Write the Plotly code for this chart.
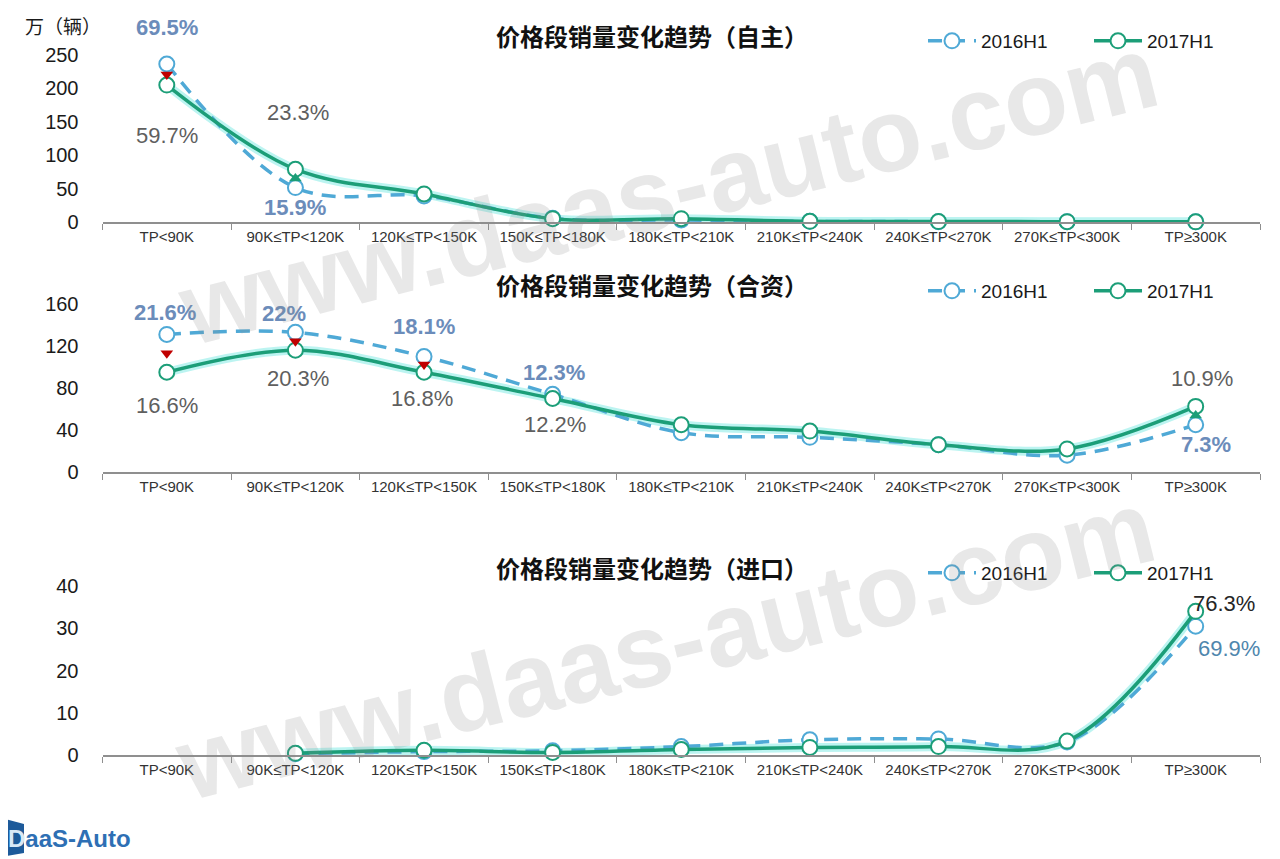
import plotly.graph_objects as go

W, H = 1280, 859
PAGE_OFF = 8  # the page body margin shifts the figure by 8px

CATEGORIES = [
    "TP<90K", "90K≤TP<120K", "120K≤TP<150K", "150K≤TP<180K", "180K≤TP<210K",
    "210K≤TP<240K", "240K≤TP<270K", "270K≤TP<300K", "TP≥300K",
]
SERIES = ["2016H1", "2017H1"]

# sales, 万辆
ZIZHU_2016 = [236.5, 51.5, 39, 5.5, 3, 1, 0.5, 0.3, 0.2]
ZIZHU_2017 = [205, 79, 42, 5, 5, 1, 0.7, 0.5, 0.3]
HEZI_2016 = [131, 133, 110, 74, 37.5, 33, 26, 16, 45]
HEZI_2017 = [95, 116, 95, 70, 45, 39, 26, 22, 62.5]
JINKOU_2016 = [None, 0.3, 0.8, 1.0, 2.0, 3.6, 3.8, 3.1, 30.5]
JINKOU_2017 = [None, 0.4, 1.1, 0.6, 1.3, 1.8, 2.0, 3.3, 34]

# share of segment labels
ZIZHU_SHARE_2016 = ["69.5%", "15.9%", None, None, None, None, None, None, None]
ZIZHU_SHARE_2017 = ["59.7%", "23.3%", None, None, None, None, None, None, None]
HEZI_SHARE_2016 = ["21.6%", "22%", "18.1%", "12.3%", None, None, None, None, "7.3%"]
HEZI_SHARE_2017 = ["16.6%", "20.3%", "16.8%", "12.2%", None, None, None, None, "10.9%"]
JINKOU_SHARE_2016 = [None, None, None, None, None, None, None, None, "69.9%"]
JINKOU_SHARE_2017 = [None, None, None, None, None, None, None, None, "76.3%"]

# change direction markers
ZIZHU_TREND = ["down", "up", None, None, None, None, None, None, None]
HEZI_TREND = ["down", "down", "down", None, None, None, None, None, "up"]
JINKOU_TREND = [None] * 9

TITLES = ["价格段销量变化趋势（自主）", "价格段销量变化趋势（合资）", "价格段销量变化趋势（进口）"]

C16 = "#4fa9d6"
C17 = "#1c9e78"
GLOW = "rgba(64,224,214,0.35)"
FONT = "Liberation Sans, Arial, sans-serif"
CJK = "Noto Sans CJK SC, sans-serif"


def py(p):
    return 1 - (p - PAGE_OFF) / H


def px(p):
    return (p - PAGE_OFF) / W


# panel geometry: zero line / top tick pixel rows of the screenshot
PANELS = [
    dict(v16=ZIZHU_2016, v17=ZIZHU_2017, s16=ZIZHU_SHARE_2016, s17=ZIZHU_SHARE_2017,
         trend=ZIZHU_TREND, bottom=222, top=55, ymax=250, dtick=50, title_y=36, legend_y=41,
         off16={0: (0, 37), 1: (0, -20)}, off17={0: (0, -50), 1: (3, 57)},
         font16=dict(color="#6b8cba", size=22, weight="bold"),
         font17=dict(color="#5f5f5f", size=22)),
    dict(v16=HEZI_2016, v17=HEZI_2017, s16=HEZI_SHARE_2016, s17=HEZI_SHARE_2017,
         trend=HEZI_TREND, bottom=472, top=304, ymax=160, dtick=40, title_y=285, legend_y=291,
         off16={0: (-2, 22), 1: (-11, 19), 2: (0, 30), 3: (1, 22), 8: (10, -20)},
         off17={0: (0, -33), 1: (3, -28), 2: (-2, -26), 3: (2, -26), 8: (6, 28)},
         font16=dict(color="#6b8cba", size=22, weight="bold"),
         font17=dict(color="#5f5f5f", size=22)),
    dict(v16=JINKOU_2016, v17=JINKOU_2017, s16=JINKOU_SHARE_2016, s17=JINKOU_SHARE_2017,
         trend=JINKOU_TREND, bottom=755, top=586, ymax=40, dtick=10, title_y=567, legend_y=573,
         off16={8: (33, -22)}, off17={8: (28, 8)},
         font16=dict(color="#4f86ad", size=22),
         font17=dict(color="#262626", size=22)),
]

fig = go.Figure()
annotations = []

for i, p in enumerate(PANELS, start=1):
    sfx = "" if i == 1 else str(i)
    xa, ya = "x" + sfx, "y" + sfx
    leg = "legend" + sfx

    # glow under 2017 line
    fig.add_trace(go.Scatter(
        x=CATEGORIES, y=p["v17"], mode="lines", xaxis=xa, yaxis=ya,
        line=dict(color=GLOW, width=9, shape="spline", smoothing=1),
        showlegend=False, hoverinfo="skip", cliponaxis=False,
    ))
    fig.add_trace(go.Scatter(
        x=CATEGORIES, y=p["v16"], mode="lines+markers", name=SERIES[0],
        xaxis=xa, yaxis=ya, legend=leg,
        line=dict(color=C16, width=3.5, dash="14px,9px", shape="spline", smoothing=1),
        marker=dict(symbol="circle", size=15, color="white", line=dict(color=C16, width=2)),
        cliponaxis=False,
    ))
    fig.add_trace(go.Scatter(
        x=CATEGORIES, y=p["v17"], mode="lines+markers", name=SERIES[1],
        xaxis=xa, yaxis=ya, legend=leg,
        line=dict(color=C17, width=3.5, shape="spline", smoothing=1),
        marker=dict(symbol="circle", size=15, color="white", line=dict(color=C17, width=2)),
        cliponaxis=False,
    ))

    # change arrows between the two years
    for direction, color, symbol in (("down", "#c00000", "triangle-down"),
                                     ("up", C17, "triangle-up")):
        idx = [k for k, t in enumerate(p["trend"]) if t == direction]
        if not idx:
            continue
        fig.add_trace(go.Scatter(
            x=[CATEGORIES[k] for k in idx],
            y=[(p["v16"][k] + p["v17"][k]) / 2 for k in idx],
            mode="markers", xaxis=xa, yaxis=ya, showlegend=False, hoverinfo="skip",
            marker=dict(symbol=symbol, size=11, color=color),
        ))

    for vals, shares, offs, font in ((p["v16"], p["s16"], p["off16"], p["font16"]),
                                     (p["v17"], p["s17"], p["off17"], p["font17"])):
        for k, s in enumerate(shares):
            if s is None:
                continue
            dx, dy = offs.get(k, (0, 0))
            annotations.append(dict(
                x=CATEGORIES[k], y=vals[k], xref=xa, yref=ya, text=s, showarrow=False,
                xanchor="center", yanchor="middle",
                xshift=dx, yshift=dy, font=dict(family=FONT, **font),
            ))

    annotations.append(dict(
        x=px(652), y=py(p["title_y"]), xref="paper", yref="paper", text=TITLES[i - 1],
        xanchor="center", yanchor="middle", showarrow=False,
        font=dict(family=CJK, size=24, color="#111111", weight="bold"),
    ))

    fig.update_layout({
        "xaxis" + sfx: dict(
            domain=[px(102.5), px(1260)], anchor=ya, type="category",
            categoryorder="array", categoryarray=CATEGORIES, range=[-0.5, 8.5],
            showline=True, linecolor="#8f8f8f", linewidth=1.5,
            ticks="outside", tickson="boundaries", ticklen=6, tickcolor="#8f8f8f",
            tickfont=dict(family=FONT, size=15, color="#333333"),
            showgrid=False, zeroline=False, fixedrange=True,
        ),
        "yaxis" + sfx: dict(
            domain=[py(p["bottom"]), py(p["top"])], anchor=xa,
            range=[0, p["ymax"]], dtick=p["dtick"], showline=False, showgrid=False,
            zeroline=False, ticks="", ticklabelstandoff=23,
            tickfont=dict(family=FONT, size=20, color="#1a1a1a"),
        ),
        leg: dict(
            orientation="h", x=px(923), xanchor="left", y=py(p["legend_y"]),
            yanchor="middle", font=dict(family=FONT, size=19, color="#1a1a1a"),
            bgcolor="rgba(0,0,0,0)", itemwidth=48,
            entrywidth=103, entrywidthmode="pixels",
        ),
    })

annotations.append(dict(
    x=px(63), y=py(26), xref="paper", yref="paper", text="万（辆）", showarrow=False,
    xanchor="center", yanchor="middle",
    font=dict(family=CJK, size=19, color="#1a1a1a"),
))

# watermark
for cx, cy in ((668, 190), (665, 645)):
    annotations.append(dict(
        x=px(cx), y=py(cy), xref="paper", yref="paper", text="www.daas-auto.com",
        showarrow=False, textangle=-14, xanchor="center", yanchor="middle",
        font=dict(family=FONT, size=104, color="rgba(140,140,140,0.2)", weight="bold"),
    ))

# logo
annotations.append(dict(
    x=px(6), y=py(838), xref="paper", yref="paper", xanchor="left", yanchor="middle",
    text="<span style='color:#d8e8f6'>D</span>aaS-Auto", showarrow=False,
    font=dict(family=FONT, size=24, color="#2e6fb4", weight="bold"),
))

fig.update_layout(
    width=W, height=H,
    margin=dict(l=0, r=0, t=0, b=0, autoexpand=False),
    paper_bgcolor="white", plot_bgcolor="white",
    annotations=annotations,
    shapes=[dict(
        type="path", xref="paper", yref="paper",
        path=f"M {px(1)} {py(818)} L {px(24)} {py(824)} L {px(24)} {py(853)} L {px(1)} {py(857)} Z",
        fillcolor="#1d5a9a", line=dict(width=0), layer="below",
    )],
    hovermode=False,
)

fig.write_html("out.html")
